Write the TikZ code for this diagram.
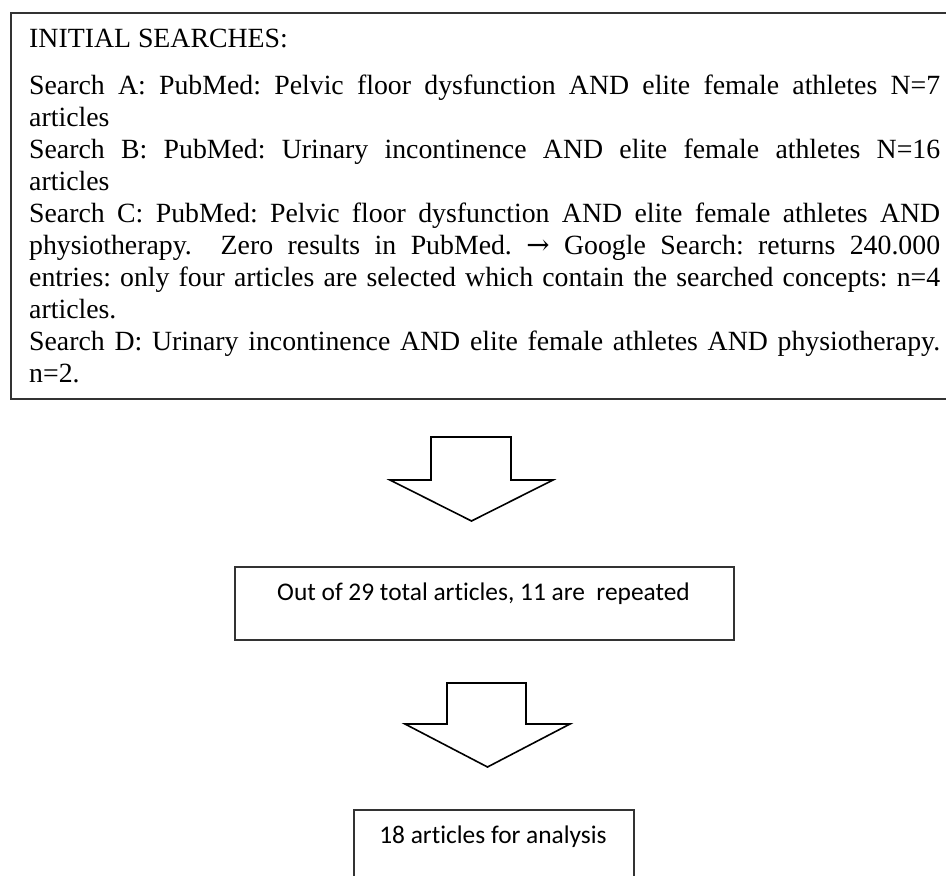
\documentclass[tikz,border=0pt]{standalone}
\usepackage{fontspec}
\setmainfont{Liberation Serif}
\newfontfamily\carlitofont[Ligatures=NoCommon]{Carlito}
\newfontfamily\arrowfont{DejaVu Serif}
\frenchspacing
\begin{document}
\begin{tikzpicture}[x=1pt,y=-1pt,
  boxline/.style={draw=black!80, line width=1.6pt, inner sep=0pt, anchor=north west},
  blockarrow/.style={draw=black, line width=1.6pt, fill=white, line join=miter},
  serif/.style={font=\frenchspacing\fontsize{27.8}{32}\selectfont, inner sep=0pt},
  sans/.style={font=\carlitofont\fontsize{25.4}{30}\selectfont, inner sep=0pt}]
\useasboundingbox (0,0) rectangle (946,876);
\clip (0,0) rectangle (946,876);
% top box
\node[boxline, minimum width=940pt, minimum height=386pt] (top) at (10,12) {};
\node[serif, anchor=base west] (title) at (29,47) {INITIAL SEARCHES:};
\node[serif, anchor=base west, text width=911pt, align=justify] (body) at (29,94) {%
Search A: PubMed: Pelvic floor dysfunction AND elite female athletes N=7\linebreak articles\par
Search B: PubMed: Urinary incontinence AND elite female athletes N=16\linebreak articles\par
Search C: PubMed: Pelvic floor dysfunction AND elite female athletes AND\linebreak physiotherapy.\ \ Zero results in PubMed. {\arrowfont →} Google Search: returns 240.000\linebreak entries: only four articles are selected which contain the searched concepts: n=4\linebreak articles.\par
Search D: Urinary incontinence AND elite female athletes AND physiotherapy.\linebreak n=2.};
% arrow 1
\draw[blockarrow] (431,437) -- (511,437) -- (511,480) -- (553,480) -- (471.5,521) -- (390,480) -- (431,480) -- cycle;
% middle box
\node[boxline, minimum width=499pt, minimum height=73pt] (mid) at (234,566) {};
\node[sans, anchor=base] (midtext) at (483.5,600) {Out of 29 total articles, 11 are\ \ repeated};
% arrow 2
\draw[blockarrow] (447,683) -- (526,683) -- (526,724) -- (570,724) -- (487.5,767) -- (405,724) -- (447,724) -- cycle;
% bottom box
\node[boxline, minimum width=280pt, minimum height=80pt] (bot) at (353,809) {};
\node[sans, anchor=base] (bottext) at (493,843) {18 articles for analysis};
\end{tikzpicture}
\end{document}
